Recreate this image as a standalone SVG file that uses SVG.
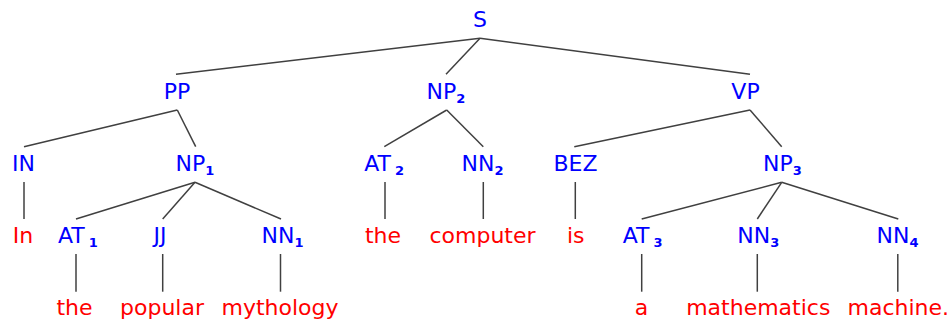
<svg xmlns="http://www.w3.org/2000/svg" width="951" height="322" viewBox="0 0 951 322">
<style>
text{font-family:"DejaVu Sans","Liberation Sans",sans-serif;font-size:22px;text-anchor:middle}
.nt{fill:#0000ff}
.t{fill:#ff0000}
.sub{font-size:13px;font-weight:bold}
#edges line{stroke:#404040;stroke-width:1.5}
</style>
<rect width="951" height="322" fill="#fff"/>
<g id="edges">
<line x1="480" y1="38.3" x2="176" y2="74.3"/>
<line x1="480" y1="38.3" x2="446" y2="74.3"/>
<line x1="480" y1="38.3" x2="750" y2="74.3"/>
<line x1="177.3" y1="110" x2="24" y2="146.7"/>
<line x1="177.3" y1="110" x2="195.7" y2="146.7"/>
<line x1="446.7" y1="110" x2="384.3" y2="146.7"/>
<line x1="446.7" y1="110" x2="483.3" y2="146.7"/>
<line x1="750" y1="110" x2="574.3" y2="146.7"/>
<line x1="750" y1="110" x2="781.7" y2="146.7"/>
<line x1="24" y1="182" x2="24" y2="219"/>
<line x1="195" y1="182.3" x2="76" y2="219"/>
<line x1="195" y1="182.3" x2="162.7" y2="219"/>
<line x1="195" y1="182.3" x2="281" y2="219"/>
<line x1="385" y1="182" x2="385" y2="219"/>
<line x1="483.3" y1="182" x2="483.3" y2="219"/>
<line x1="575.3" y1="182" x2="575.3" y2="219"/>
<line x1="781.7" y1="182.3" x2="641.7" y2="219"/>
<line x1="781.7" y1="182.3" x2="757.3" y2="219"/>
<line x1="781.7" y1="182.3" x2="898.3" y2="219"/>
<line x1="76" y1="254" x2="76" y2="291.7"/>
<line x1="162.7" y1="254" x2="162.7" y2="291.7"/>
<line x1="280.5" y1="254" x2="280.5" y2="291.7"/>
<line x1="641.7" y1="254" x2="641.7" y2="291.7"/>
<line x1="757.3" y1="254" x2="757.3" y2="291.7"/>
<line x1="897.8" y1="254" x2="897.8" y2="291.7"/>
</g>
<g id="S"><text class="nt" x="480" y="27">S</text></g>
<g id="PP"><text class="nt" x="177" y="98.5">PP</text></g>
<g id="NP2"><text class="nt" x="446" y="98.5">NP<tspan class="sub" dy="4">2</tspan></text></g>
<g id="VP"><text class="nt" x="745.5" y="98.5">VP</text></g>
<g id="IN"><text class="nt" x="23.5" y="170.5">IN</text></g>
<g id="NP1"><text class="nt" x="195" y="170.5">NP<tspan class="sub" dy="4">1</tspan></text></g>
<g id="AT2"><text class="nt" x="384.2" y="170.5">AT<tspan class="sub" dx="4" dy="4">2</tspan></text></g>
<g id="NN2"><text class="nt" x="482.5" y="170.5">NN<tspan class="sub" dy="4">2</tspan></text></g>
<g id="BEZ"><text class="nt" x="575.5" y="170.5">BEZ</text></g>
<g id="NP3"><text class="nt" x="782.5" y="170.5">NP<tspan class="sub" dy="4">3</tspan></text></g>
<g id="w-In"><text class="t" x="23" y="242.5">In</text></g>
<g id="AT1"><text class="nt" x="77.8" y="242.5">AT<tspan class="sub" dx="4" dy="4">1</tspan></text></g>
<g id="JJ"><text class="nt" x="160" y="242.5">JJ</text></g>
<g id="NN1"><text class="nt" x="282.5" y="242.5">NN<tspan class="sub" dy="4">1</tspan></text></g>
<g id="w-the2"><text class="t" x="383" y="242.5">the</text></g>
<g id="w-computer"><text class="t" x="482.5" y="242.5">computer</text></g>
<g id="w-is"><text class="t" x="575.8" y="242.5">is</text></g>
<g id="AT3"><text class="nt" x="642.7" y="242.5">AT<tspan class="sub" dx="4" dy="4">3</tspan></text></g>
<g id="NN3"><text class="nt" x="758.3" y="242.5">NN<tspan class="sub" dy="4">3</tspan></text></g>
<g id="NN4"><text class="nt" x="897.5" y="242.5">NN<tspan class="sub" dy="4">4</tspan></text></g>
<g id="w-the1"><text class="t" x="74.5" y="315">the</text></g>
<g id="w-popular"><text class="t" x="162" y="315">popular</text></g>
<g id="w-mythology"><text class="t" x="280" y="315">mythology</text></g>
<g id="w-a"><text class="t" x="641.5" y="315">a</text></g>
<g id="w-mathematics"><text class="t" x="758.3" y="315">mathematics</text></g>
<g id="w-machine"><text class="t" x="898.3" y="315">machine.</text></g>
</svg>
